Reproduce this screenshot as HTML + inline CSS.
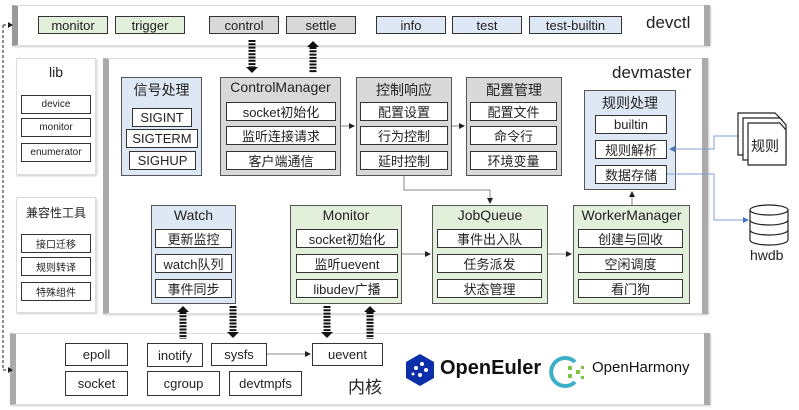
<!DOCTYPE html>
<html><head><meta charset="utf-8"><style>
body{margin:0;width:799px;height:410px;background:#fff;position:relative;overflow:hidden;font-family:"Liberation Sans","Noto Sans CJK SC",sans-serif;color:#222}
.a{position:absolute;box-sizing:border-box}
.panel{background:#fff;border:1px solid #ddd;box-shadow:1px 1px 2px #ccc}
.b{position:absolute;box-sizing:border-box;border:1.3px solid #333;background:#fff;display:flex;align-items:center;justify-content:center;font-size:13px;white-space:nowrap;color:#222}
.g{background:#e2efda}.gr{background:#d9d9d9}.bl{background:#dde8f4}
.box{position:absolute;box-sizing:border-box;border:1.3px solid #555}
.t{position:absolute;font-size:14px;white-space:nowrap;text-align:center;color:#222}
.s{font-size:10px}
</style></head><body>
<div class="a panel" style="left:12px;top:5px;width:698px;height:41px;border-left:6px solid #999;border-right:0"></div>
<div class="a" style="left:704px;top:5px;width:6px;height:41px;background:#aaa"></div>
<div class="a panel" style="left:103px;top:58px;width:605px;height:256px;border-left:6px solid #aaa"></div>
<div class="a" style="left:702px;top:58px;width:6px;height:256px;background:#aaa"></div>
<div class="a panel" style="left:16px;top:58px;width:80px;height:117px"></div>
<div class="a panel" style="left:16px;top:197px;width:80px;height:116px"></div>
<div class="a panel" style="left:10px;top:333px;width:700px;height:72px;border-left:6px solid #aaa"></div>
<div class="a" style="left:704px;top:333px;width:6px;height:72px;background:#aaa"></div>

<div class="b g" style="left:38px;top:16px;width:70px;height:18px">monitor</div>
<div class="b g" style="left:115px;top:16px;width:70px;height:18px">trigger</div>
<div class="b gr" style="left:209px;top:16px;width:70px;height:18px">control</div>
<div class="b gr" style="left:286px;top:16px;width:70px;height:18px">settle</div>
<div class="b bl" style="left:376px;top:16px;width:70px;height:18px">info</div>
<div class="b bl" style="left:452px;top:16px;width:70px;height:18px">test</div>
<div class="b bl" style="left:529px;top:16px;width:93px;height:18px">test-builtin</div>
<div class="t" style="left:646px;top:13px;font-size:17px">devctl</div>

<div class="t" style="left:16px;top:64px;width:80px">lib</div>
<div class="b s" style="left:21px;top:95px;width:70px;height:19px">device</div>
<div class="b s" style="left:21px;top:118px;width:70px;height:19px">monitor</div>
<div class="b s" style="left:21px;top:143px;width:70px;height:19px">enumerator</div>
<div class="t" style="left:16px;top:204px;width:80px;font-size:12px">兼容性工具</div>
<div class="b s" style="left:21px;top:234px;width:70px;height:19px">接口迁移</div>
<div class="b s" style="left:21px;top:257px;width:70px;height:19px">规则转译</div>
<div class="b s" style="left:21px;top:282px;width:70px;height:19px">特殊组件</div>

<div class="t" style="left:612px;top:63px;font-size:17px">devmaster</div>

<div class="box bl" style="left:121px;top:77px;width:81px;height:99px"></div>
<div class="t" style="left:121px;top:80px;width:81px">信号处理</div>
<div class="b" style="left:132px;top:108px;width:60px;height:19px">SIGINT</div>
<div class="b" style="left:126px;top:129px;width:72px;height:19px">SIGTERM</div>
<div class="b" style="left:129px;top:151px;width:67px;height:19px">SIGHUP</div>
<div class="box gr" style="left:220px;top:77px;width:121px;height:99px"></div>
<div class="t" style="left:220px;top:79px;width:121px">ControlManager</div>
<div class="b" style="left:226px;top:102px;width:110px;height:19px">socket初始化</div>
<div class="b" style="left:226px;top:126px;width:110px;height:19px">监听连接请求</div>
<div class="b" style="left:226px;top:151px;width:110px;height:19px">客户端通信</div>
<div class="box gr" style="left:356px;top:77px;width:96px;height:99px"></div>
<div class="t" style="left:356px;top:80px;width:96px">控制响应</div>
<div class="b" style="left:360px;top:102px;width:88px;height:19px">配置设置</div>
<div class="b" style="left:360px;top:126px;width:88px;height:19px">行为控制</div>
<div class="b" style="left:360px;top:151px;width:88px;height:19px">延时控制</div>
<div class="box gr" style="left:466px;top:77px;width:96px;height:99px"></div>
<div class="t" style="left:466px;top:80px;width:96px">配置管理</div>
<div class="b" style="left:470px;top:102px;width:87px;height:19px">配置文件</div>
<div class="b" style="left:470px;top:126px;width:87px;height:19px">命令行</div>
<div class="b" style="left:470px;top:151px;width:87px;height:19px">环境变量</div>
<div class="box bl" style="left:584px;top:90px;width:92px;height:100px"></div>
<div class="t" style="left:584px;top:93px;width:92px">规则处理</div>
<div class="b" style="left:595px;top:115px;width:72px;height:19px">builtin</div>
<div class="b" style="left:595px;top:140px;width:72px;height:19px">规则解析</div>
<div class="b" style="left:595px;top:165px;width:72px;height:19px">数据存储</div>

<div class="box bl" style="left:151px;top:205px;width:85px;height:99px"></div>
<div class="t" style="left:151px;top:207px;width:85px">Watch</div>
<div class="b" style="left:155px;top:229px;width:77px;height:19px">更新监控</div>
<div class="b" style="left:155px;top:254px;width:77px;height:19px">watch队列</div>
<div class="b" style="left:155px;top:279px;width:77px;height:19px">事件同步</div>

<div class="box g" style="left:290px;top:205px;width:112px;height:99px"></div>
<div class="t" style="left:290px;top:207px;width:112px">Monitor</div>
<div class="b" style="left:296px;top:229px;width:102px;height:19px">socket初始化</div>
<div class="b" style="left:296px;top:254px;width:102px;height:19px">监听uevent</div>
<div class="b" style="left:296px;top:279px;width:102px;height:19px">libudev广播</div>

<div class="box g" style="left:432px;top:205px;width:116px;height:99px"></div>
<div class="t" style="left:432px;top:207px;width:116px">JobQueue</div>
<div class="b" style="left:437px;top:229px;width:105px;height:19px">事件出入队</div>
<div class="b" style="left:437px;top:254px;width:105px;height:19px">任务派发</div>
<div class="b" style="left:437px;top:279px;width:105px;height:19px">状态管理</div>

<div class="box g" style="left:573px;top:205px;width:117px;height:99px"></div>
<div class="t" style="left:573px;top:207px;width:117px">WorkerManager</div>
<div class="b" style="left:578px;top:229px;width:105px;height:19px">创建与回收</div>
<div class="b" style="left:578px;top:254px;width:105px;height:19px">空闲调度</div>
<div class="b" style="left:578px;top:279px;width:105px;height:19px">看门狗</div>

<div class="b" style="left:65px;top:343px;width:63px;height:23px">epoll</div>
<div class="b" style="left:65px;top:371px;width:63px;height:25px">socket</div>
<div class="b" style="left:147px;top:343px;width:56px;height:24px">inotify</div>
<div class="b" style="left:147px;top:371px;width:73px;height:25px">cgroup</div>
<div class="b" style="left:211px;top:343px;width:56px;height:23px">sysfs</div>
<div class="b" style="left:229px;top:371px;width:73px;height:25px">devtmpfs</div>
<div class="b" style="left:312px;top:343px;width:71px;height:23px">uevent</div>
<div class="t" style="left:348px;top:373px;font-size:17px">内核</div>
<div class="t" style="left:440px;top:357px;font-size:20px;font-weight:bold;color:#111">OpenEuler</div>
<div class="t" style="left:592px;top:359px;font-size:15px;color:#111">OpenHarmony</div>

<svg class="a" style="left:0;top:0" width="799" height="410">
<defs>
<marker id="ar" markerWidth="6" markerHeight="6" refX="5" refY="3" orient="auto"><path d="M0,0L6,3L0,6z" fill="#222"/></marker>
<marker id="ab" markerWidth="6" markerHeight="6" refX="5" refY="3" orient="auto"><path d="M0,0L6,3L0,6z" fill="#4472c4"/></marker>
</defs>
<path d="M3,25V370M3,25H10M3,370H10" stroke="#222" stroke-dasharray="3,2" fill="none"/>
<path d="M8,22L13,25L8,28zM8,367L13,370L8,373z" fill="#222"/>
<g stroke="#111" stroke-width="7" stroke-dasharray="2,1.3" fill="none">
<path d="M252,40V67"/><path d="M313,47V73"/>
<path d="M183,312V339"/><path d="M233,306V332"/>
<path d="M327,306V332"/><path d="M370,312V339"/>
</g>
<g fill="#111">
<path d="M246,67H258L252,73z"/><path d="M307,47H319L313,41z"/>
<path d="M177,312H189L183,306z"/><path d="M227,332H239L233,338z"/>
<path d="M321,332H333L327,338z"/><path d="M364,312H376L370,306z"/>
</g>
<g stroke="#888" stroke-width="1" fill="none">
<path d="M341,126H354" marker-end="url(#ar)"/>
<path d="M452,126H464" marker-end="url(#ar)"/>
<path d="M404,176V190H490V203" marker-end="url(#ar)"/>
<path d="M402,254H430" marker-end="url(#ar)"/>
<path d="M548,254H571" marker-end="url(#ar)"/>
<path d="M632,205V192" marker-end="url(#ar)"/>
<path d="M267,354H310" marker-end="url(#ar)"/>
</g>
<g stroke="#7f9fd6" stroke-width="1" fill="none">
<path d="M738,136H714V149H670" marker-end="url(#ab)"/>
<path d="M667,174H714V220H748" marker-end="url(#ab)"/>
</g>
<g stroke="#222" stroke-width="1.2" fill="#fff">
<path d="M738,113H775L782,120V155H738z"/>
<path d="M743,118H780L786,125V160H743z"/>
<path d="M748,123H780L786,130V165H748z"/>
</g>
<g stroke="#222" stroke-width="1.2" fill="#fff">
<path d="M750,210V240A19,5 0 0 0 788,240V210"/>
<ellipse cx="769" cy="210" rx="19" ry="5"/>
<path d="M750,220A19,5 0 0 0 788,220M750,230A19,5 0 0 0 788,230" fill="none"/>
</g>
<path d="M420,354L434,362V378L420,386L406,378V362z" fill="#0b2fa8"/>
<g fill="#fff"><circle cx="416" cy="368" r="2"/><circle cx="422" cy="364" r="2"/><circle cx="426" cy="370" r="2"/><circle cx="420" cy="375" r="2"/><circle cx="413" cy="374" r="1.5"/></g>
<path d="M575,362A14,14 0 1 0 575,382" stroke="#3bb0c9" stroke-width="4" fill="none"/>
<g fill="#7cc243"><rect x="568" y="366" width="4" height="4"/><rect x="568" y="374" width="4" height="4"/><rect x="576" y="370" width="4" height="4"/><rect x="581" y="366" width="3" height="3"/><rect x="581" y="376" width="3" height="3"/></g>
</svg>
<div class="t" style="left:751px;top:136px;font-size:14px">规则</div>
<div class="t" style="left:750px;top:247px;font-size:14px">hwdb</div>
</body></html>
